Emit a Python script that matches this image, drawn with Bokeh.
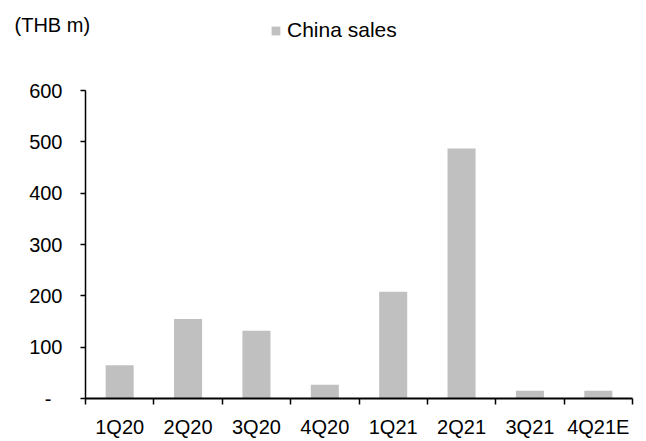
import numpy as np
from bokeh.plotting import figure
from bokeh.layouts import column
from bokeh.models import ColumnDataSource, FixedTicker, Label, Legend, LegendItem, Range1d
from bokeh.embed import file_html
from bokeh.resources import INLINE

categories = ["1Q20", "2Q20", "3Q20", "4Q20", "1Q21", "2Q21", "3Q21", "4Q21E"]
china_sales = [65, 155, 132, 27, 208, 487, 15, 15]
y_ticks = [0, 100, 200, 300, 400, 500, 600]
y_tick_labels = ["-\u00a0\u00a0", "100", "200", "300", "400", "500", "600"]

FONT = "Liberation Sans"
FS = "20px"
BAR = "#C0C0C0"
W = 640
HEAD_H = 60

centers = np.arange(len(categories)) + 0.5
src = ColumnDataSource(dict(x=centers, top=china_sales, cat=categories))

# ---- header: unit label and legend ----
head = figure(width=W, height=HEAD_H, output_backend="svg", toolbar_location=None,
              x_range=Range1d(0, W), y_range=Range1d(0, HEAD_H),
              x_axis_location=None, y_axis_location=None,
              min_border=0, min_border_left=0, min_border_right=0,
              min_border_top=0, min_border_bottom=0)
head.frame_align = False
head.outline_line_color = None
head.xgrid.grid_line_color = None
head.ygrid.grid_line_color = None
proxy = head.vbar(x="x", top="top", width=0.41, source=src, fill_color=BAR, line_color=None)
proxy.visible = False
legend = Legend(items=[LegendItem(label="China sales", renderers=[proxy], index=0)],
                location=(270, 18), orientation="horizontal",
                glyph_width=11, glyph_height=11, label_standoff=6,
                padding=0, margin=0, spacing=0,
                label_text_font=FONT, label_text_font_size="21px",
                label_text_color="black",
                inactive_fill_alpha=0,
                border_line_color=None, background_fill_alpha=0)
head.add_layout(legend, "center")
head.add_layout(Label(x=14, y=HEAD_H - 24, x_units="screen", y_units="screen",
                      text="(THB m)", text_font=FONT, text_font_size=FS,
                      text_color="black", text_baseline="middle", text_align="left"))

# ---- main chart ----
p = figure(width=W, height=380, output_backend="svg", toolbar_location=None,
           x_range=Range1d(0, len(categories)), y_range=Range1d(0, 600),
           min_border_left=85, min_border_right=8, min_border_top=30, min_border_bottom=37)
p.frame_align = False
p.outline_line_color = None
p.xgrid.grid_line_color = None
p.ygrid.grid_line_color = None

p.vbar(x="x", top="top", width=0.41, bottom=0, source=src,
       fill_color=BAR, line_color=None)

xa = p.xaxis[0]
xa.ticker = FixedTicker(ticks=list(centers), minor_ticks=list(range(len(categories) + 1)))
xa.major_label_overrides = {float(c): lab for c, lab in zip(centers, categories)}
xa.major_tick_line_color = None
xa.minor_tick_line_color = "black"
xa.minor_tick_line_width = 1.5
xa.minor_tick_out = 6
xa.minor_tick_in = 0
xa.axis_line_color = "black"
xa.axis_line_width = 2
xa.major_label_text_font = FONT
xa.major_label_text_font_size = FS
xa.major_label_text_color = "black"
xa.major_label_standoff = 11

ya = p.yaxis[0]
ya.ticker = FixedTicker(ticks=y_ticks)
ya.major_label_overrides = {t: l for t, l in zip(y_ticks, y_tick_labels)}
ya.minor_tick_line_color = None
ya.major_tick_out = 5
ya.major_tick_in = 0
ya.major_tick_line_width = 1.5
ya.axis_line_color = "black"
ya.axis_line_width = 1.5
ya.major_label_text_font = FONT
ya.major_label_text_font_size = FS
ya.major_label_text_color = "black"
ya.major_label_standoff = 18

layout = column(head, p, spacing=0)
open("out.html", "w").write(file_html(layout, INLINE))
